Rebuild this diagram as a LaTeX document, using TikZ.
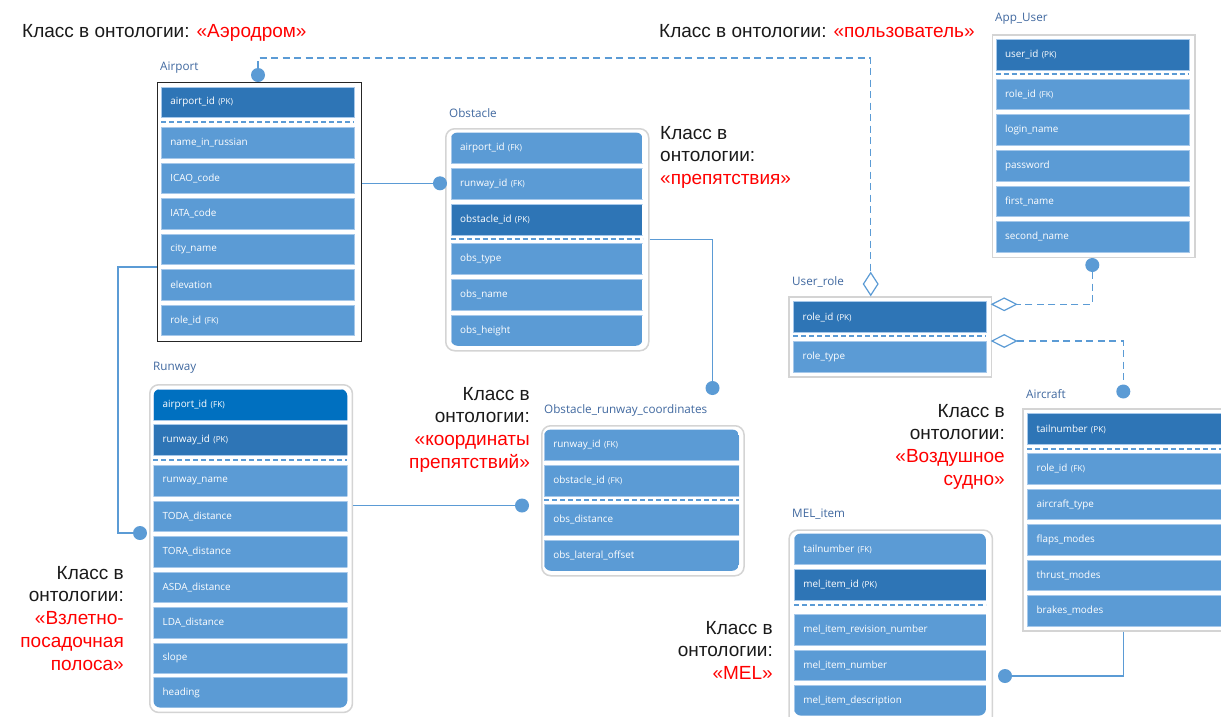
\documentclass[tikz,border=0pt]{standalone}
\usepackage{fontspec}
\setmainfont{Liberation Sans}
\newfontfamily\fldfamily{Open Sans}
\usetikzlibrary{shapes.geometric}
\definecolor{rowblue}{HTML}{5B9BD5}
\definecolor{pkblue}{HTML}{2E75B6}
\definecolor{fkbright}{HTML}{0070C0}
\definecolor{rowedge}{HTML}{A6C8EA}
\definecolor{boxgray}{HTML}{D4D4D4}
\definecolor{titleblue}{HTML}{4169A0}
\definecolor{annblack}{HTML}{1A1A1A}
\definecolor{annred}{HTML}{FF0000}
\newcommand{\pkk}[1]{{\fontsize{8.2}{9}\selectfont #1}}
\tikzset{
  fld/.style={anchor=north west, inner xsep=9pt, inner ysep=0pt, minimum height=30.5pt,
    text width=#1, align=left, fill=rowblue, draw=rowedge, line width=0.7pt, text=white,
    font=\fldfamily\fontsize{9.9}{11}\selectfont},
  pkfld/.style={fld=#1, fill=pkblue},
  fkbfld/.style={fld=#1, fill=fkbright},
  sepline/.style={draw=rowblue, line width=2pt, dash pattern=on 5pt off 3pt},
  tblbox/.style={anchor=north west, draw=boxgray, line width=1.5pt, fill=white, inner sep=0pt},
  rtblbox/.style={tblbox, rounded corners=9pt},
  ttl/.style={anchor=west, text=titleblue, font=\fldfamily\fontsize{11.7}{13}\selectfont, inner sep=0pt},
  dotn/.style={circle, fill=rowblue, minimum size=14pt, inner sep=0pt},
  dmd/.style={diamond, draw=rowblue, fill=white, line width=1.2pt, inner sep=0pt},
  conn/.style={draw=rowblue, line width=1.2pt},
  dconn/.style={conn, dash pattern=on 7pt off 4.5pt},
  ann/.style={inner sep=0pt, font=\fontsize{19}{22.7}\selectfont, text=annblack},
}
\begin{document}
\begin{tikzpicture}[x=1pt,y=-1pt]
\useasboundingbox (0,0) rectangle (1221,716);
\fill[white] (0,0) rectangle (1221,716);

% ---------- Airport ----------
\node[tblbox, draw=black!85, line width=1.3pt, minimum width=204pt, minimum height=259pt] (airport) at (156.5,81.7) {};
\node[ttl] (airportT) at (160,68) {Airport};
\node[pkfld=175pt] (ap1) at (161,86.7) {airport\_id \pkk{(PK)}};
\draw[sepline] (161,122) -- (354,122);
\node[fld=175pt] (ap2) at (161,127.3) {name\_in\_russian};
\node[fld=175pt] (ap3) at (161,162.8) {ICAO\_code};
\node[fld=175pt] (ap4) at (161,198.3) {IATA\_code};
\node[fld=175pt] (ap5) at (161,233.8) {city\_name};
\node[fld=175pt] (ap6) at (161,269.3) {elevation};
\node[fld=175pt] (ap7) at (161,304.8) {role\_id \pkk{(FK)}};

% ---------- Obstacle ----------
\node[rtblbox, minimum width=203pt, minimum height=222pt] (obstacle) at (445,128) {};
\node[ttl] (obstacleT) at (449,113) {Obstacle};
\begin{scope}
\clip[rounded corners=7pt] (450.7,132.3) rectangle (642.7,345.8);
\node[fld=174pt] (ob1) at (450.7,132.3) {airport\_id \pkk{(FK)}};
\node[fld=174pt] (ob2) at (450.7,168.2) {runway\_id \pkk{(FK)}};
\node[pkfld=174pt] (ob3) at (450.7,204) {obstacle\_id \pkk{(PK)}};
\node[fld=174pt] (ob4) at (450.7,243.3) {obs\_type};
\node[fld=174pt] (ob5) at (450.7,279) {obs\_name};
\node[fld=174pt] (ob6) at (450.7,315.3) {obs\_height};
\end{scope}
\draw[sepline] (450.7,238.6) -- (642.7,238.6);

% ---------- Runway ----------
\node[rtblbox, minimum width=202.7pt, minimum height=327.7pt] (runway) at (149,384) {};
\node[ttl] (runwayT) at (153,368) {Runway};
\begin{scope}
\clip[rounded corners=7pt] (153.3,389) rectangle (347.3,707.6);
\node[fkbfld=176pt] (rw1) at (153.3,389) {airport\_id \pkk{(FK)}};
\node[pkfld=176pt] (rw2) at (153.3,424.3) {runway\_id \pkk{(PK)}};
\node[fld=176pt] (rw3) at (153.3,465) {runway\_name};
\node[fld=176pt] (rw4) at (153.3,500.7) {TODA\_distance};
\node[fld=176pt] (rw5) at (153.3,536.2) {TORA\_distance};
\node[fld=176pt] (rw6) at (153.3,571.7) {ASDA\_distance};
\node[fld=176pt] (rw7) at (153.3,607.1) {LDA\_distance};
\node[fld=176pt] (rw8) at (153.3,642.5) {slope};
\node[fld=176pt] (rw9) at (153.3,677.3) {heading};
\end{scope}
\draw[sepline] (153.3,459.8) -- (347.3,459.8);

% ---------- Obstacle_runway_coordinates ----------
\node[rtblbox, minimum width=202.3pt, minimum height=150pt] (orc) at (541,425) {};
\node[ttl] (orcT) at (544,410) {Obstacle\_runway\_coordinates};
\begin{scope}
\clip[rounded corners=7pt] (544,429.3) rectangle (739,570.8);
\node[fld=177pt] (oc1) at (544,429.3) {runway\_id \pkk{(FK)}};
\node[fld=177pt] (oc2) at (544,465) {obstacle\_id \pkk{(FK)}};
\node[fld=177pt] (oc3) at (544,504.3) {obs\_distance};
\node[fld=177pt] (oc4) at (544,540.3) {obs\_lateral\_offset};
\end{scope}
\draw[sepline] (544,499.6) -- (739,499.6);

% ---------- App_User ----------
\node[tblbox, minimum width=202.3pt, minimum height=222.7pt] (appuser) at (991.7,34) {};
\node[ttl] (appuserT) at (995,19) {App\_User};
\node[pkfld=175.6pt] (au1) at (995.7,39.3) {user\_id \pkk{(PK)}};
\draw[sepline] (995.7,74) -- (1189.3,74);
\node[fld=175.6pt] (au2) at (995.7,78.7) {role\_id \pkk{(FK)}};
\node[fld=175.6pt] (au3) at (995.7,114.3) {login\_name};
\node[fld=175.6pt] (au4) at (995.7,150) {password};
\node[fld=175.6pt] (au5) at (995.7,185.7) {first\_name};
\node[fld=175.6pt] (au6) at (995.7,221.3) {second\_name};

% ---------- User_role ----------
\node[tblbox, minimum width=202.4pt, minimum height=80pt] (userrole) at (788.3,296) {};
\node[ttl] (userroleT) at (792,282) {User\_role};
\node[pkfld=174.7pt] (ur1) at (793.3,301.4) {role\_id \pkk{(PK)}};
\draw[sepline] (793.3,336.2) -- (986,336.2);
\node[fld=174.7pt] (ur2) at (793.3,341.4) {role\_type};

% ---------- Aircraft ----------
\node[tblbox, minimum width=205pt, minimum height=221.7pt] (aircraft) at (1022.3,408.3) {};
\node[ttl] (aircraftT) at (1026,394) {Aircraft};
\node[pkfld=176pt] (ac1) at (1027.3,413.3) {tailnumber \pkk{(PK)}};
\draw[sepline] (1027.3,448.6) -- (1221,448.6);
\node[fld=176pt] (ac2) at (1027.3,453.3) {role\_id \pkk{(FK)}};
\node[fld=176pt] (ac3) at (1027.3,488.9) {aircraft\_type};
\node[fld=176pt] (ac4) at (1027.3,524.3) {flaps\_modes};
\node[fld=176pt] (ac5) at (1027.3,559.8) {thrust\_modes};
\node[fld=176pt] (ac6) at (1027.3,595.3) {brakes\_modes};

% ---------- MEL_item ----------
\node[rtblbox, minimum width=203.4pt, minimum height=195pt] (mel) at (788.3,529.3) {};
\node[ttl] (melT) at (792,514) {MEL\_item};
\begin{scope}
\clip[rounded corners=7pt] (794,533.3) rectangle (986,715.6);
\node[fld=174pt] (me1) at (794,533.3) {tailnumber \pkk{(FK)}};
\node[pkfld=174pt] (me2) at (794,569.3) {mel\_item\_id \pkk{(PK)}};
\node[fld=174pt] (me3) at (794,614.3) {mel\_item\_revision\_number};
\node[fld=174pt] (me4) at (794,649.8) {mel\_item\_number};
\node[fld=174pt] (me5) at (794,685.2) {mel\_item\_description};
\end{scope}
\draw[sepline] (794,604.6) -- (986,604.6);

% ---------- end markers ----------
\node[dotn] (dAp) at (258,75) {};
\node[dotn] (dOb) at (440,183.3) {};
\node[dotn] (dOrcA) at (712.5,388) {};
\node[dotn] (dRw) at (140,533) {};
\node[dotn] (dOrcB) at (522,505.5) {};
\node[dotn] (dAu) at (1092.3,265) {};
\node[dotn] (dAc) at (1123.3,391.5) {};
\node[dotn] (dMel) at (1005,676) {};
\node[dmd, minimum width=15pt, minimum height=23pt] (dmUR) at (870.7,284) {};
\node[dmd, minimum width=25pt, minimum height=13pt] (dmRa) at (1004.2,304.3) {};
\node[dmd, minimum width=25pt, minimum height=13pt] (dmRb) at (1004.2,341) {};

% ---------- connectors ----------
\coordinate (cTop) at (870.7,58);
\draw[dconn] (dAp) |- (cTop) -- (dmUR.north);
\draw[conn] (airport.east |- dOb) -- (dOb);
\coordinate (cRw) at (118,267);
\draw[conn] (airport.west |- cRw) -- (cRw) |- (dRw);
\coordinate (cOb) at (712.5,239.5);
\draw[conn] (obstacle.east |- cOb) -- (cOb) -- (dOrcA);
\draw[conn] (runway.east |- dOrcB) -- (dOrcB);
\draw[dconn] (dAu) |- (dmRa.east);
\draw[dconn] (dmRb.east) -| (dAc);
\draw[conn] (dAc |- aircraft.south) |- (dMel);

% ---------- annotations ----------
\node[ann, anchor=base west] (annAp) at (22,37) {Класс в онтологии: \textcolor{annred}{«Аэродром»}};
\node[ann, anchor=base west] (annUs) at (659,37) {Класс в онтологии: \textcolor{annred}{«пользователь»}};
\node[ann, anchor=north west, align=left] (annOb) at (660,126) {Класс в\\онтологии:\\\textcolor{annred}{«препятствия»}};
\node[ann, anchor=north east, align=right] (annOc) at (530,387) {Класс в\\онтологии:\\\textcolor{annred}{«координаты}\\\textcolor{annred}{препятствий»}};
\node[ann, anchor=north east, align=right] (annAc) at (1005,404) {Класс в\\онтологии:\\\textcolor{annred}{«Воздушное}\\\textcolor{annred}{судно»}};
\node[ann, anchor=north east, align=right] (annRw) at (124,566) {Класс в\\онтологии:\\\textcolor{annred}{«Взлетно-}\\\textcolor{annred}{посадочная}\\\textcolor{annred}{полоса»}};
\node[ann, anchor=north east, align=right] (annMe) at (773,621) {Класс в\\онтологии:\\\textcolor{annred}{«MEL»}};
\end{tikzpicture}
\end{document}
